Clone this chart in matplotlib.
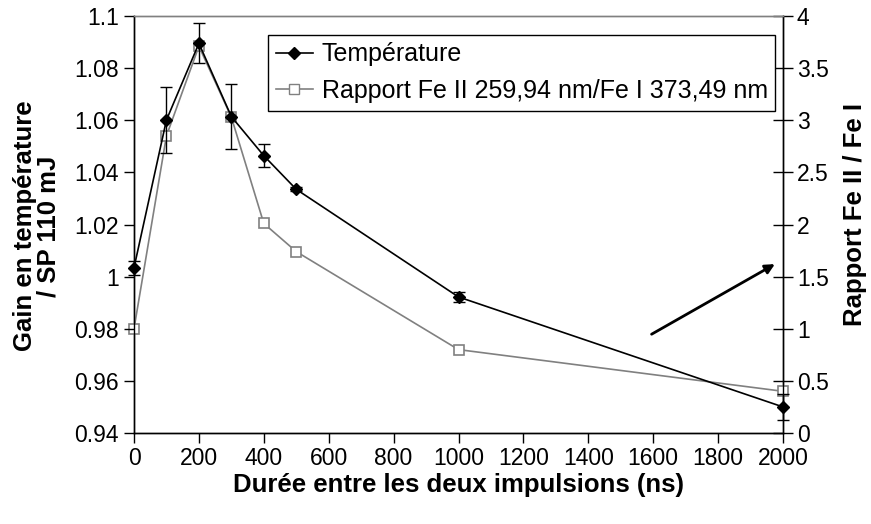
import matplotlib
matplotlib.use("Agg")
import matplotlib.pyplot as plt
from matplotlib.lines import Line2D

plt.rcParams['font.family'] = ['Liberation Sans', 'DejaVu Sans']

durations = [0, 100, 200, 300, 400, 500, 1000, 2000]
temperature = [1.0034, 1.0601, 1.0895, 1.0614, 1.0464, 1.0335, 0.9922, 0.9500]
temp_err = [0.0026, 0.0127, 0.0077, 0.0126, 0.0043, 0.0008, 0.0018, 0.0050]
ratio = [1.00, 2.85, 3.71, 3.03, 2.01, 1.74, 0.80, 0.40]

left_ticks = [0.94, 0.96, 0.98, 1.0, 1.02, 1.04, 1.06, 1.08, 1.1]
left_labels = ['0.94', '0.96', '0.98', '1', '1.02', '1.04', '1.06', '1.08', '1.1']
right_ticks = [0, 0.5, 1, 1.5, 2, 2.5, 3, 3.5, 4]
right_labels = ['0', '0.5', '1', '1.5', '2', '2.5', '3', '3.5', '4']
x_ticks = list(range(0, 2001, 200))

arrow_start = (1595, 0.9779)
arrow_end = (1975, 1.0048)

fig = plt.figure(figsize=(8.71, 5.24), dpi=100)
ax = fig.add_axes([134/871, 1 - 433/524, 649/871, 417/524])
ax2 = ax.twinx()

fs_tick = 16.5
fs_leg = 18
fs_title = 18.5

ax.errorbar(durations, temperature, yerr=temp_err, color='black', lw=1.2,
            marker='D', markersize=6, markerfacecolor='black', markeredgecolor='black',
            ecolor='black', elinewidth=1, capsize=4, capthick=1, zorder=5, clip_on=False)
ax2.plot(durations, ratio, color='#808080', lw=1.2, marker='s', markersize=7,
         markerfacecolor='white', markeredgecolor='#808080', markeredgewidth=1.2,
         zorder=4, clip_on=False)

ax.set_zorder(ax2.get_zorder() + 1)
ax.patch.set_visible(False)

ax.set_xlim(0, 2000)
ax.set_ylim(0.94, 1.1)
ax2.set_ylim(0, 4)

ax.set_xticks(x_ticks)
ax.set_xticklabels([str(v) for v in x_ticks], fontsize=fs_tick)
ax.set_yticks(left_ticks)
ax.set_yticklabels(left_labels, fontsize=fs_tick)
ax2.set_yticks(right_ticks)
ax2.set_yticklabels(right_labels, fontsize=fs_tick)

ax.tick_params(axis='x', direction='out', length=7, width=1, pad=3)
ax.tick_params(axis='y', direction='out', length=7, width=1, pad=4)
ax2.tick_params(axis='y', direction='inout', length=14, width=1, pad=3)

for a in (ax, ax2):
    a.spines['top'].set_color('#808080')
    a.spines['top'].set_linewidth(1)
    a.spines['left'].set_linewidth(1)
    a.spines['right'].set_linewidth(1)
    a.spines['bottom'].set_linewidth(1)

fig.text(458/871, 1 - 485/524, 'Durée entre les deux impulsions (ns)', fontsize=fs_title,
         fontweight='bold', ha='center', va='center')
fig.text(37/871, 1 - 226/524, 'Gain en température\n/ SP 110 mJ', fontsize=fs_title,
         fontweight='bold', ha='center', va='center', rotation=90, linespacing=1.0)
fig.text(855/871, 1 - 214/524, 'Rapport Fe II / Fe I', fontsize=fs_title,
         fontweight='bold', ha='center', va='center', rotation=90)

ax.annotate('', xy=arrow_end, xytext=arrow_start,
            arrowprops=dict(arrowstyle='-|>', color='black', lw=2, mutation_scale=14,
                            shrinkA=0, shrinkB=0))

handles = [
    Line2D([], [], color='black', lw=1.2, marker='D', markersize=6,
           markerfacecolor='black', markeredgecolor='black'),
    Line2D([], [], color='#808080', lw=1.2, marker='s', markersize=7,
           markerfacecolor='white', markeredgecolor='#808080'),
]
labels = ['Température', 'Rapport Fe II 259,94 nm/Fe I 373,49 nm']
leg = ax.legend(handles, labels, loc='upper left',
                bbox_to_anchor=((268 - 134) / 649, (433 - 35) / 417),
                fontsize=fs_leg, frameon=True, fancybox=False, edgecolor='black',
                framealpha=1, borderaxespad=0, handlelength=1.5, handletextpad=0.35,
                borderpad=0.3, labelspacing=0.5)
leg.get_frame().set_linewidth(1)

fig.savefig('out.png', dpi=100)
